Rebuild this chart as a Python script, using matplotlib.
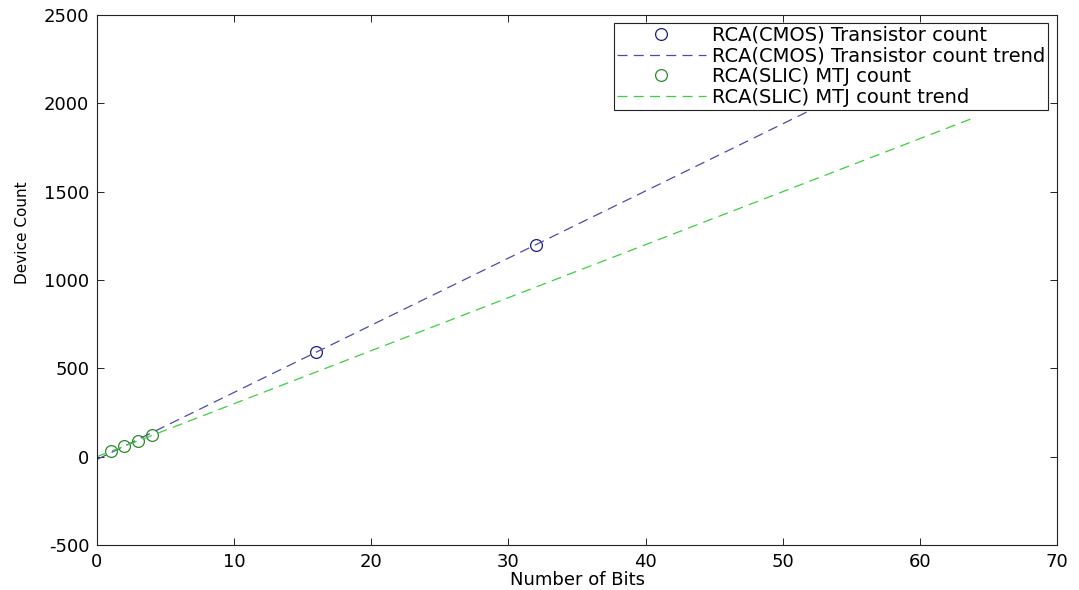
import matplotlib
matplotlib.use("Agg")
import matplotlib.pyplot as plt
import numpy as np

# device counts for ripple carry adders
cmos_bits = [16, 32]
cmos_transistors = [592, 1200]
slic_bits = [1, 2, 3, 4]
slic_mtjs = [30, 60, 90, 120]
trend_range = [0, 64]

plt.rcParams['font.family'] = ['DejaVu Sans']
plt.rcParams['axes.unicode_minus'] = False

# linear trends from the counted designs
cmos_fit = np.polyfit(cmos_bits, cmos_transistors, 1)
slic_fit = np.polyfit(slic_bits, slic_mtjs, 1)
trend_bits = np.linspace(trend_range[0], trend_range[1], 65)

fig = plt.figure(figsize=(10.79, 5.90), dpi=100)
ax = fig.add_axes([97 / 1079, 45 / 590, 960 / 1079, 530 / 590])

ax.plot(cmos_bits, cmos_transistors, 'o', mfc='none', mec='#1a1a8c', ms=8.5, mew=0.9,
        label="RCA(CMOS) Transistor count")
ax.plot(trend_bits, np.polyval(cmos_fit, trend_bits), color='#4b4ba8', lw=0.9,
        dashes=(8, 5), label="RCA(CMOS) Transistor count trend")
ax.plot(slic_bits, slic_mtjs, 'o', mfc='none', mec='#2a8a2a', ms=8.5, mew=0.9,
        label="RCA(SLIC) MTJ count")
ax.plot(trend_bits, np.polyval(slic_fit, trend_bits), color='#3ccf3c', lw=0.9,
        dashes=(8, 5), label="RCA(SLIC) MTJ count trend")

ax.set_xlim(0, 70)
ax.set_ylim(-500, 2500)
ax.set_xticks(np.arange(0, 71, 10))
ax.set_yticks(np.arange(-500, 2501, 500))
ax.tick_params(direction='in', top=True, right=True, length=5, width=0.6,
               labelsize=13, pad=5.5)
for sp in ax.spines.values():
    sp.set_linewidth(0.8)
    sp.set_color('#222222')

ax.set_xlabel("Number of Bits", fontsize=13)
ax.xaxis.set_label_coords(0.5, -0.049)
ax.xaxis.label.set_va('top')
ax.set_ylabel("Device Count", fontsize=11)
ax.yaxis.set_label_coords(-0.07, 0.59)

leg = ax.legend(loc='upper right', bbox_to_anchor=(1048 / 1079, 1 - 23 / 590),
                bbox_transform=fig.transFigure, fontsize=14, frameon=True,
                fancybox=False, framealpha=1, edgecolor='#222222',
                handlelength=4.6, handletextpad=0.3, labelspacing=0.08,
                borderpad=0.15, borderaxespad=0)
leg.get_frame().set_linewidth(0.8)

fig.savefig("out.png", dpi=100)
